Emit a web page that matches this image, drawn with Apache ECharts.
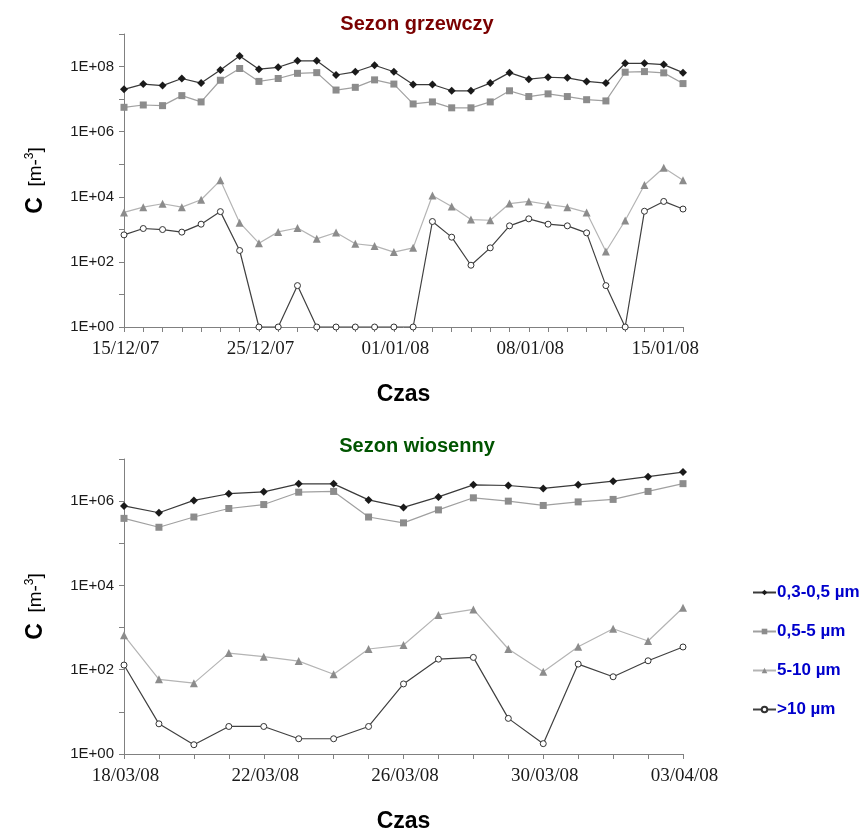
<!DOCTYPE html>
<html>
<head>
<meta charset="utf-8">
<script src="https://cdn.jsdelivr.net/npm/echarts@6/dist/echarts.min.js"></script>
<style>
  html, body { margin: 0; padding: 0; background: #fff; }
  #chart { width: 867px; height: 835px; }
</style>
</head>
<body>
<div id="chart"></div>
<script>
// Heating season sampling days (category axis, labels every 7th sample)
const heatingDates = [
  '15/12/07','17/12/07','18/12/07','19/12/07','20/12/07','22/12/07','24/12/07','25/12/07',
  '26/12/07','27/12/07','28/12/07','29/12/07','30/12/07','31/12/07','01/01/08',
  '02/01/08','03/01/08','04/01/08','05/01/08','06/01/08','07/01/08','08/01/08',
  '09/01/08','10/01/08','11/01/08','12/01/08','13/01/08','14/01/08','15/01/08','16/01/08'
];
// Spring season sampling days
const springDates = [
  '18/03/08','19/03/08','20/03/08','21/03/08','22/03/08','23/03/08','24/03/08','25/03/08',
  '26/03/08','27/03/08','28/03/08','29/03/08','30/03/08','31/03/08','01/04/08','02/04/08','03/04/08'
];

const seriesNames = ['0,3-0,5 µm', '0,5-5 µm', '5-10 µm', '>10 µm'];

// Particle number concentrations, heating season [m-3]
const heatFine = [2.0e7, 2.9e7, 2.6e7, 4.3e7, 3.1e7, 7.9e7, 2.1e8, 8.3e7, 9.5e7, 1.5e8,
  1.5e8, 5.5e7, 6.9e7, 1.1e8, 6.9e7, 2.8e7, 2.8e7, 1.8e7, 1.8e7, 3.1e7,
  6.5e7, 4.1e7, 4.7e7, 4.5e7, 3.5e7, 3.1e7, 1.26e8, 1.26e8, 1.15e8, 6.5e7];
const heatMid = [5.6e6, 6.6e6, 6.3e6, 1.28e7, 8.2e6, 3.8e7, 8.7e7, 3.5e7, 4.3e7, 6.2e7,
  6.5e7, 1.9e7, 2.3e7, 3.9e7, 2.9e7, 7.1e6, 8.2e6, 5.4e6, 5.4e6, 8.2e6,
  1.8e7, 1.2e7, 1.45e7, 1.2e7, 9.6e6, 8.8e6, 6.7e7, 7.0e7, 6.4e7, 3.0e7];
const heatCoarse = [3.3e3, 4.8e3, 6.1e3, 4.8e3, 8.1e3, 3.2e4, 1.6e3, 376, 835, 1.1e3,
  510, 800, 360, 310, 200, 270, 1.1e4, 5.0e3, 2.0e3, 1.9e3,
  6.2e3, 7.2e3, 5.8e3, 4.8e3, 3.3e3, 208, 1.87e3, 2.3e4, 7.8e4, 3.2e4];
const heatLarge = [676, 1060, 985, 820, 1440, 3500, 224, 1, 1, 18.7,
  1, 1, 1, 1, 1, 1, 1740, 575, 79, 270,
  1280, 2100, 1440, 1280, 780, 18.7, 1, 3600, 7200, 4200];

// Particle number concentrations, spring season [m-3]
const springFine = [7.7e5, 5.3e5, 1.04e6, 1.5e6, 1.66e6, 2.57e6, 2.57e6, 1.07e6, 7.1e5,
  1.26e6, 2.44e6, 2.35e6, 2.0e6, 2.44e6, 2.97e6, 3.8e6, 4.9e6];
const springMid = [3.9e5, 2.4e5, 4.2e5, 6.7e5, 8.3e5, 1.63e6, 1.7e6, 4.2e5, 3.05e5,
  6.2e5, 1.2e6, 1.0e6, 7.9e5, 9.6e5, 1.1e6, 1.7e6, 2.6e6];
const springCoarse = [653, 59, 48, 248, 204, 160, 78, 310, 385,
  2000, 2700, 310, 89, 351, 935, 480, 2950];
const springLarge = [129, 5.2, 1.66, 4.5, 4.5, 2.3, 2.3, 4.5, 46,
  178, 196, 7.0, 1.76, 136, 68, 163, 346];

const axisGrey = '#808080';

const styles = [
  { symbol: 'diamond', symbolSize: 8, line: '#3a3a3a', fill: '#1a1a1a', border: '#1a1a1a' },
  { symbol: 'rect', symbolSize: 7, line: '#a0a0a0', fill: '#8c8c8c', border: '#8c8c8c' },
  { symbol: 'triangle', symbolSize: 8, line: '#b4b4b4', fill: '#8c8c8c', border: '#8c8c8c' },
  { symbol: 'circle', symbolSize: 6, line: '#404040', fill: '#ffffff', border: '#333333' }
];

function expLabel(v) {
  const e = Math.round(Math.log10(v));
  if (e % 2 !== 0) return '';
  return '1E+' + String(e).padStart(2, '0');
}

function makeSeries(name, idx, data, axisIndex) {
  const s = styles[idx];
  return {
    name: name,
    type: 'line',
    xAxisIndex: axisIndex,
    yAxisIndex: axisIndex,
    data: data,
    symbol: s.symbol,
    symbolSize: s.symbolSize,
    showAllSymbol: true,
    lineStyle: { color: s.line, width: 1.2 },
    itemStyle: { color: s.fill, borderColor: s.border, borderWidth: idx === 3 ? 1 : 0 },
    emphasis: { disabled: true },
    z: 10 - idx
  };
}

function yAxisDef(gridIndex, maxExp) {
  return {
    type: 'log',
    logBase: 10,
    gridIndex: gridIndex,
    min: 1,
    max: Math.pow(10, maxExp),
    interval: 1,
    splitNumber: maxExp,
    name: '{c|C}{r|  [m-}{s|3}{r|]}',
    nameLocation: 'middle',
    nameGap: 76,
    nameTextStyle: {
      rich: {
        c: { fontFamily: 'Liberation Sans', fontWeight: 'bold', fontSize: 23, color: '#000' },
        r: { fontFamily: 'Liberation Sans', fontSize: 19, color: '#000' },
        s: { fontFamily: 'Liberation Sans', fontSize: 12, color: '#000', verticalAlign: 'top', padding: [0, 0, 12, 0] }
      }
    },
    axisLine: { show: true, lineStyle: { color: axisGrey, width: 1 } },
    axisTick: { show: true, length: 5, lineStyle: { color: axisGrey } },
    splitLine: { show: false },
    minorTick: { show: false },
    axisLabel: {
      formatter: expLabel,
      fontFamily: 'Liberation Sans',
      fontSize: 15,
      color: '#1a1a1a',
      margin: 10
    }
  };
}

function xAxisDef(gridIndex, cats, labelInterval) {
  return {
    type: 'category',
    gridIndex: gridIndex,
    data: cats,
    boundaryGap: false,
    name: 'Czas',
    nameLocation: 'middle',
    nameGap: 56,
    nameTextStyle: { fontFamily: 'Liberation Sans', fontWeight: 'bold', fontSize: 23, color: '#000' },
    axisLine: { show: true, lineStyle: { color: axisGrey, width: 1 } },
    axisTick: { show: true, interval: 0, length: 5, alignWithLabel: true, lineStyle: { color: axisGrey } },
    splitLine: { show: false },
    axisLabel: {
      interval: labelInterval,
      fontFamily: 'Liberation Serif',
      fontSize: 19,
      color: '#1a1a1a',
      margin: 13,
      padding: [0, 0, 0, 3]
    }
  };
}

const chart = echarts.init(document.getElementById('chart'), null, { renderer: 'canvas' });

chart.setOption({
  animation: false,
  backgroundColor: '#ffffff',
  title: [
    {
      text: 'Sezon grzewczy', left: 412, top: 9, textAlign: 'center',
      textStyle: { fontFamily: 'Liberation Sans', fontWeight: 'bold', fontSize: 20, color: '#7a0000' }
    },
    {
      text: 'Sezon wiosenny', left: 412, top: 431, textAlign: 'center',
      textStyle: { fontFamily: 'Liberation Sans', fontWeight: 'bold', fontSize: 20, color: '#005400' }
    }
  ],
  legend: {
    orient: 'vertical',
    left: 747,
    top: 579,
    itemWidth: 23,
    itemHeight: 7,
    itemGap: 22,
    data: seriesNames,
    textStyle: { fontFamily: 'Liberation Sans', fontWeight: 'bold', fontSize: 17, color: '#0000cc', padding: [0, 0, 0, -4] }
  },
  grid: [
    { left: 124, top: 34, width: 559, height: 293 },
    { left: 124, top: 459, width: 559, height: 295 }
  ],
  xAxis: [xAxisDef(0, heatingDates, 6), xAxisDef(1, springDates, 3)],
  yAxis: [yAxisDef(0, 9), yAxisDef(1, 7)],
  series: [
    makeSeries(seriesNames[0], 0, heatFine, 0),
    makeSeries(seriesNames[1], 1, heatMid, 0),
    makeSeries(seriesNames[2], 2, heatCoarse, 0),
    makeSeries(seriesNames[3], 3, heatLarge, 0),
    makeSeries(seriesNames[0], 0, springFine, 1),
    makeSeries(seriesNames[1], 1, springMid, 1),
    makeSeries(seriesNames[2], 2, springCoarse, 1),
    makeSeries(seriesNames[3], 3, springLarge, 1)
  ]
});
</script>
</body>
</html>
